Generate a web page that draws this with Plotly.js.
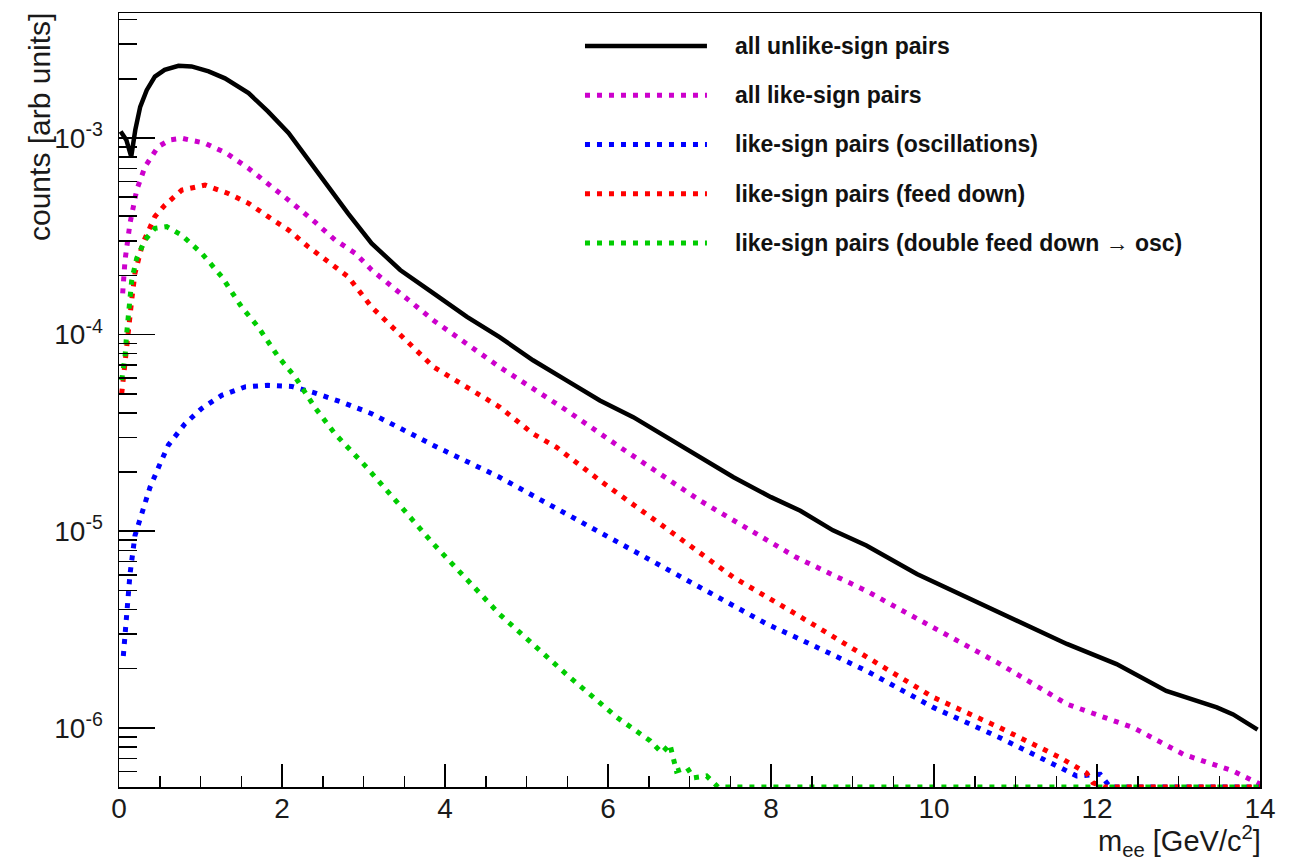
<!DOCTYPE html>
<html>
<head>
<meta charset="utf-8">
<script src="https://cdn.plot.ly/plotly-3.0.1.min.js"></script>
<style>
  html, body { margin: 0; padding: 0; background: #fff; }
  #plot { width: 1298px; height: 860px; }
</style>
</head>
<body>
<div id="plot"></div>
<script>
// Dielectron invariant-mass spectra (counts per bin, arbitrary units).
// A value of 0 marks an empty bin; it is drawn on the lower frame edge.

const unlikeX = [0.02, 0.09, 0.15, 0.20, 0.26, 0.34, 0.44, 0.56, 0.73, 0.89, 1.10, 1.30, 1.59, 1.83, 2.08, 2.32, 2.57, 2.81, 3.10, 3.45, 3.86, 4.27, 4.67, 5.08, 5.49, 5.90, 6.31, 6.72, 7.00, 7.54, 8.00, 8.36, 8.76, 9.17, 9.79, 10.40, 11.01, 11.63, 12.24, 12.85, 13.47, 13.67, 13.97];
const unlikeY = [1.08e-3, 9.77e-4, 8.03e-4, 1.10e-3, 1.44e-3, 1.75e-3, 2.05e-3, 2.22e-3, 2.33e-3, 2.31e-3, 2.18e-3, 2.01e-3, 1.69e-3, 1.36e-3, 1.06e-3, 7.73e-4, 5.65e-4, 4.13e-4, 2.91e-4, 2.13e-4, 1.62e-4, 1.23e-4, 9.7e-5, 7.4e-5, 5.85e-5, 4.62e-5, 3.8e-5, 3.0e-5, 2.57e-5, 1.88e-5, 1.49e-5, 1.27e-5, 1.01e-5, 8.45e-6, 6.06e-6, 4.6e-6, 3.5e-6, 2.67e-6, 2.11e-6, 1.54e-6, 1.27e-6, 1.17e-6, 9.8e-7];

const likeAllX = [0.045, 0.074, 0.135, 0.217, 0.32, 0.48, 0.626, 0.77, 1.055, 1.32, 1.59, 1.83, 2.08, 2.40, 2.65, 2.90, 3.10, 3.86, 4.67, 5.49, 6.15, 7.13, 8.31, 9.17, 9.99, 10.81, 11.63, 12.45, 13.06, 13.67, 14.0];
const likeAllY = [1.62e-4, 2.39e-4, 3.68e-4, 5.43e-4, 7.15e-4, 9.03e-4, 9.77e-4, 9.96e-4, 9.4e-4, 8.36e-4, 7.0e-4, 5.88e-4, 4.83e-4, 3.75e-4, 3.03e-4, 2.59e-4, 2.13e-4, 1.18e-4, 6.84e-5, 4.12e-5, 2.67e-5, 1.43e-5, 7.36e-6, 4.97e-6, 3.24e-6, 2.11e-6, 1.32e-6, 1.0e-6, 7.33e-7, 6.03e-7, 5.17e-7];

const oscX = [0.053, 0.074, 0.094, 0.135, 0.196, 0.278, 0.38, 0.503, 0.605, 0.81, 1.015, 1.26, 1.546, 1.83, 2.12, 2.40, 2.73, 3.10, 3.86, 4.67, 5.49, 6.31, 7.13, 7.95, 8.31, 9.17, 9.99, 10.81, 11.55, 11.75, 12.04, 12.16, 14.0];
const oscY = [2.32e-6, 3.0e-6, 3.94e-6, 6.05e-6, 9.5e-6, 1.25e-5, 1.67e-5, 2.2e-5, 2.74e-5, 3.52e-5, 4.21e-5, 4.91e-5, 5.42e-5, 5.52e-5, 5.45e-5, 5.05e-5, 4.54e-5, 3.96e-5, 2.73e-5, 1.88e-5, 1.22e-5, 7.96e-6, 5.18e-6, 3.37e-6, 2.88e-6, 1.95e-6, 1.27e-6, 8.9e-7, 6.27e-7, 5.69e-7, 5.8e-7, 0, 0];

const feedX = [0.033, 0.053, 0.094, 0.115, 0.156, 0.196, 0.29, 0.44, 0.564, 0.77, 1.055, 1.34, 1.59, 1.83, 2.08, 2.32, 2.57, 2.81, 3.10, 3.86, 4.67, 5.08, 5.37, 5.90, 6.72, 7.54, 8.31, 9.17, 9.99, 10.81, 11.55, 11.87, 11.95, 12.08, 14.0];
const feedY = [5.0e-5, 6.1e-5, 8.65e-5, 1.14e-4, 1.5e-4, 2.05e-4, 2.9e-4, 3.98e-4, 4.56e-4, 5.43e-4, 5.76e-4, 5.22e-4, 4.65e-4, 3.98e-4, 3.4e-4, 2.8e-4, 2.34e-4, 1.97e-4, 1.38e-4, 6.84e-5, 4.28e-5, 3.13e-5, 2.67e-5, 1.81e-5, 1.03e-5, 5.82e-6, 3.78e-6, 2.28e-6, 1.43e-6, 1.0e-6, 7.05e-7, 5.9e-7, 5.26e-7, 0, 0];

const dblFeedX = [0.033, 0.074, 0.094, 0.123, 0.156, 0.217, 0.32, 0.44, 0.585, 0.77, 1.015, 1.26, 1.505, 1.71, 1.955, 2.16, 2.40, 2.65, 3.04, 3.86, 4.67, 5.49, 6.11, 6.52, 6.66, 6.76, 6.84, 6.97, 7.05, 7.21, 7.35, 14.0];
const dblFeedY = [5.86e-5, 7.7e-5, 1.01e-4, 1.38e-4, 1.89e-4, 2.44e-4, 3.03e-4, 3.47e-4, 3.54e-4, 3.2e-4, 2.59e-4, 1.97e-4, 1.38e-4, 1.09e-4, 7.7e-5, 6.1e-5, 4.28e-5, 3.13e-5, 2.11e-5, 8.6e-6, 3.78e-6, 1.87e-6, 1.13e-6, 8.57e-7, 7.47e-7, 8.24e-7, 6.02e-7, 6.27e-7, 5.57e-7, 5.69e-7, 0, 0];

const seriesNames = [
  'all unlike-sign pairs',
  'all like-sign pairs',
  'like-sign pairs (oscillations)',
  'like-sign pairs (feed down)',
  'like-sign pairs (double feed down \u2192 osc)'
];

const xTickVals = [0, 2, 4, 6, 8, 10, 12, 14];
const yTickVals = [1e-6, 1e-5, 1e-4, 1e-3];
const yTickText = ['10<sup>-6</sup>', '10<sup>-5</sup>', '10<sup>-4</sup>', '10<sup>-3</sup>'];

// Frame limits
const X_MIN = 0, X_MAX = 14;
const Y_MIN = 5e-7, Y_MAX = 4.32e-3;

const FONT = 'Liberation Sans, Arial, Helvetica, sans-serif';
const DOT = '5px,7px';

const styles = [
  { color: '#000000', width: 4.5, dash: 'solid' },
  { color: '#cc00cc', width: 5, dash: DOT },
  { color: '#0000ff', width: 5, dash: DOT },
  { color: '#ff0000', width: 5, dash: DOT },
  { color: '#00cc00', width: 5, dash: DOT }
];

const xs = [unlikeX, likeAllX, oscX, feedX, dblFeedX];
const ys = [unlikeY, likeAllY, oscY, feedY, dblFeedY];

// empty bins sit on the lower edge of the frame
const clampToFrame = arr => arr.map(v => (v > Y_MIN ? v : Y_MIN));

const traces = xs.map((x, i) => ({
  type: 'scatter',
  mode: 'lines',
  name: seriesNames[i],
  x: x,
  y: clampToFrame(ys[i]),
  line: { color: styles[i].color, width: styles[i].width, dash: styles[i].dash },
  showlegend: false,
  hoverinfo: 'x+y+name'
}));

// y minor ticks at 2..9 of every decade
const yMinor = [];
for (let e = -7; e <= -3; e++) {
  for (let d = 2; d <= 9; d++) {
    const v = d * Math.pow(10, e);
    if (v >= Y_MIN && v <= Y_MAX) yMinor.push(v);
  }
}

// Legend box drawn in paper coordinates
const legendTop = 0.9574, legendStep = 0.0636;
const legendShapes = [];
const legendTexts = [];
seriesNames.forEach((name, i) => {
  const yy = legendTop - i * legendStep;
  legendShapes.push({
    type: 'line', xref: 'paper', yref: 'paper',
    x0: 0.4084, x1: 0.5153, y0: yy, y1: yy,
    line: { color: styles[i].color, width: styles[i].width, dash: styles[i].dash }
  });
  legendTexts.push({
    xref: 'paper', yref: 'paper', x: 0.538, y: yy,
    xanchor: 'left', yanchor: 'middle', showarrow: false,
    text: name,
    font: { family: FONT, size: 23, color: '#111', weight: 'bold' }
  });
});

const layout = {
  width: 1298, height: 860,
  margin: { l: 119, r: 38, t: 13, b: 73 },
  paper_bgcolor: '#ffffff', plot_bgcolor: '#ffffff',
  font: { family: FONT, size: 28, color: '#1a1a1a' },
  showlegend: false,
  xaxis: {
    range: [X_MIN, X_MAX],
    tickvals: xTickVals,
    ticks: 'inside', ticklen: 23, tickwidth: 1.5, tickcolor: '#000',
    showline: true, linecolor: '#000', linewidth: 1.5, mirror: true,
    showgrid: false, zeroline: false,
    ticklabelstandoff: -4,
    tickfont: { family: FONT, size: 28, color: '#1a1a1a' },
    minor: { dtick: 0.5, ticks: 'inside', ticklen: 11, tickwidth: 1.5, tickcolor: '#000', showgrid: false }
  },
  yaxis: {
    type: 'log',
    range: [Math.log10(Y_MIN), Math.log10(Y_MAX)],
    tickvals: yTickVals, ticktext: yTickText,
    ticks: 'inside', ticklen: 36, tickwidth: 1.5, tickcolor: '#000',
    showline: true, linecolor: '#000', linewidth: 1.5, mirror: true,
    showgrid: false, zeroline: false,
    ticklabelstandoff: 9,
    tickfont: { family: FONT, size: 28, color: '#1a1a1a' },
    minor: { tickvals: yMinor, ticks: 'inside', ticklen: 18, tickwidth: 1.5, tickcolor: '#000', showgrid: false }
  },
  shapes: legendShapes,
  annotations: legendTexts.concat([
    {
      xref: 'paper', yref: 'paper', x: 0, y: 1,
      xshift: -80, xanchor: 'center', yanchor: 'top', yshift: 2,
      textangle: -90, showarrow: false,
      text: 'counts [arb units]',
      font: { family: FONT, size: 30, color: '#1a1a1a' }
    },
    {
      xref: 'paper', yref: 'paper', x: 1, y: 0,
      xanchor: 'right', yanchor: 'top', yshift: -32, xshift: 3,
      showarrow: false,
      text: 'm<sub>ee</sub> [GeV/c<sup>2</sup>]',
      font: { family: FONT, size: 29, color: '#1a1a1a' }
    }
  ])
};

Plotly.newPlot('plot', traces, layout, { displayModeBar: false, staticPlot: true });
</script>
</body>
</html>
